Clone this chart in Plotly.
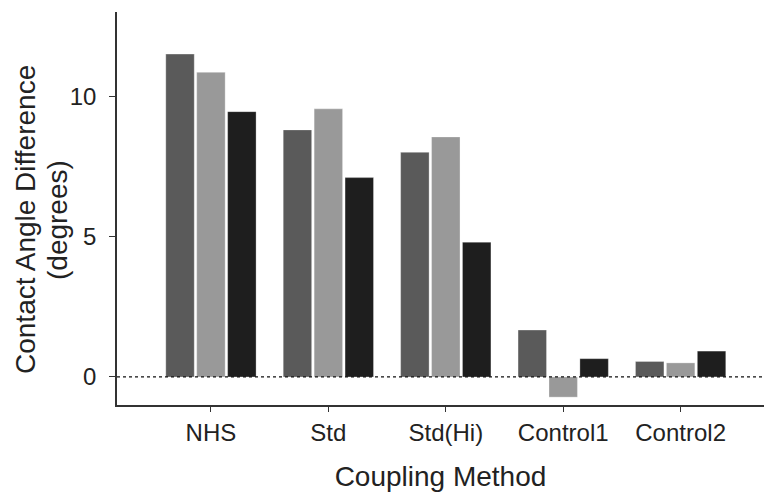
import plotly.graph_objects as go

# Coupling methods on the x axis
methods = ["NHS", "Std", "Std(Hi)", "Control1", "Control2"]

# Contact angle differences (degrees) for the three measurement series
series_a = [11.5, 8.8, 8.0, 1.67, 0.55]
series_b = [10.85, 9.55, 8.55, -0.72, 0.50]
series_c = [9.45, 7.1, 4.8, 0.65, 0.92]

series_names = ["Series A", "Series B", "Series C"]
series_colors = ["#5a5a5a", "#999999", "#1e1e1e"]

y_ticks = [0, 5, 10]

FONT = "Liberation Sans, Arial, Helvetica, sans-serif"
TEXT = "#222222"
AXIS = "#333333"

fig = go.Figure()
for name, vals, color in zip(series_names, [series_a, series_b, series_c], series_colors):
    fig.add_trace(go.Bar(
        x=methods, y=vals, name=name,
        marker=dict(color=color, line=dict(color="rgba(255,255,255,0.5)", width=0.6)),
        showlegend=False,
    ))

# Dotted reference line at zero across the plotting area
fig.add_shape(type="line", xref="paper", yref="y", x0=0, x1=1, y0=0, y1=0,
              line=dict(color="#111111", width=1.2, dash="dot"), layer="above")

# Two-line y-axis title
fig.add_annotation(text="Contact Angle Difference", xref="paper", yref="paper",
                   x=-117 / 647 + 25 / 647, y=(405 - 220) / 393, textangle=-90,
                   showarrow=False, xanchor="center", yanchor="middle",
                   font=dict(family=FONT, size=28, color=TEXT))
fig.add_annotation(text="(degrees)", xref="paper", yref="paper",
                   x=-117 / 647 + 57 / 647, y=(405 - 220) / 393, textangle=-90,
                   showarrow=False, xanchor="center", yanchor="middle",
                   font=dict(family=FONT, size=28, color=TEXT))

fig.update_layout(
    width=764, height=492,
    margin=dict(l=117, r=0, t=12, b=87),
    paper_bgcolor="white", plot_bgcolor="white",
    barmode="group", bargap=0.21, bargroupgap=0.08,
    font=dict(family=FONT, size=24, color=TEXT),
    xaxis=dict(
        range=[-0.8, 4.71],
        showline=True, linecolor=AXIS, linewidth=1.5,
        ticks="outside", ticklen=5, tickwidth=1.2, tickcolor=AXIS,
        showgrid=False, zeroline=False,
        tickfont=dict(family=FONT, size=24, color=TEXT),
        title=dict(text="Coupling Method", font=dict(family=FONT, size=28, color=TEXT),
                   standoff=27),
    ),
    yaxis=dict(
        range=[-1, 13],
        tickvals=y_ticks,
        showline=True, linecolor=AXIS, linewidth=1.5,
        ticks="outside", ticklen=6, tickwidth=1.2, tickcolor=AXIS,
        showgrid=False, zeroline=False,
        tickfont=dict(family=FONT, size=24, color=TEXT),
        ticklabelstandoff=8,
    ),
)

fig.write_html("out.html")
